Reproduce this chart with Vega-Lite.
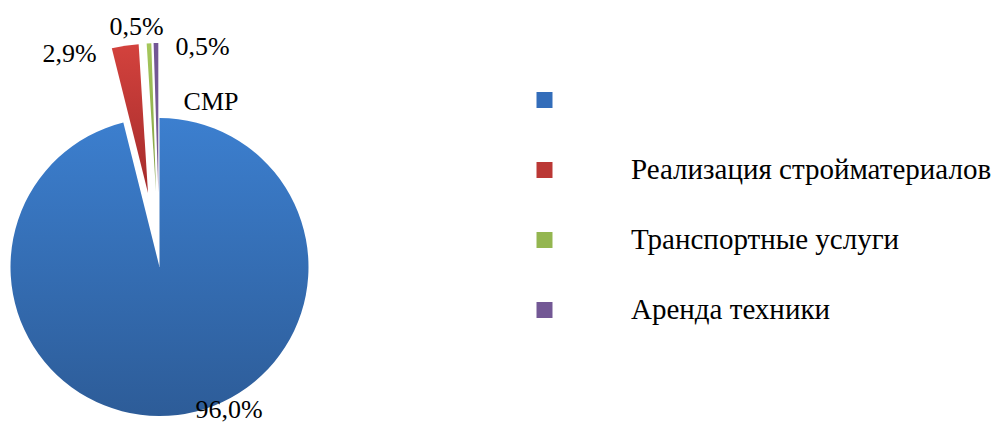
{
  "$schema": "https://vega.github.io/schema/vega-lite/v6.json",
  "width": 319,
  "height": 425,
  "autosize": {"type": "none"},
  "padding": {"left": 0, "top": 0, "right": 676, "bottom": 0},
  "background": "white",
  "config": {
    "view": {"stroke": null},
    "font": "Liberation Serif"
  },
  "data": {
    "values": [
      {"cat": "СМР", "share": 96.0, "label": "96,0%", "n": 1},
      {"cat": "Реализация стройматериалов", "share": 2.9, "label": "2,9%", "n": 2},
      {"cat": "Транспортные услуги", "share": 0.5, "label": "0,5%", "n": 3},
      {"cat": "Аренда техники", "share": 0.5, "label": "0,5%", "n": 4}
    ]
  },
  "encoding": {
    "theta": {"field": "share", "type": "quantitative", "stack": true},
    "order": {"field": "n", "type": "quantitative"},
    "color": {
      "field": "cat",
      "type": "nominal",
      "scale": {
        "domain": ["СМР", "Реализация стройматериалов", "Транспортные услуги", "Аренда техники"],
        "range": ["#336dba", "#bb3835", "#94b650", "#735895"]
      },
      "legend": {
        "title": null,
        "orient": "none",
        "legendX": 530,
        "legendY": 85.5,
        "symbolType": "square",
        "symbolSize": 256,
        "symbolStrokeWidth": 0,
        "labelFont": "Liberation Serif",
        "labelFontSize": 29,
        "labelColor": "black",
        "labelOffset": 72,
        "labelLimit": 500,
        "rowPadding": 40,
        "labelExpr": "datum.label === 'СМР' ? '' : datum.label"
      }
    }
  },
  "layer": [
    {
      "mark": {"type": "arc", "radius": 149, "yOffset": 54.5},
      "encoding": {
        "color": {"value": {"gradient": "linear", "x1": 0, "y1": 0, "x2": 0, "y2": 1, "stops": [{"offset": 0, "color": "#3c7fcf"}, {"offset": 1, "color": "#2d5c98"}]}},
        "opacity": {"condition": {"test": "datum.cat === 'СМР'", "value": 1}, "value": 0}
      }
    },
    {
      "mark": {"type": "arc", "radius": 149, "xOffset": -11.5, "yOffset": -19.6},
      "encoding": {
        "color": {"value": {"gradient": "linear", "x1": 0, "y1": 0, "x2": 0, "y2": 1, "stops": [{"offset": 0, "color": "#d3423d"}, {"offset": 1, "color": "#a42b2b"}]}},
        "opacity": {"condition": {"test": "datum.cat === 'Реализация стройматериалов'", "value": 1}, "value": 0}
      }
    },
    {
      "mark": {"type": "arc", "radius": 149, "xOffset": -3.5, "yOffset": -20.4},
      "encoding": {
        "color": {"value": {"gradient": "linear", "x1": 0, "y1": 0, "x2": 0, "y2": 1, "stops": [{"offset": 0, "color": "#a6c85c"}, {"offset": 1, "color": "#7f9c42"}]}},
        "opacity": {"condition": {"test": "datum.cat === 'Транспортные услуги'", "value": 1}, "value": 0}
      }
    },
    {
      "mark": {"type": "arc", "radius": 149, "xOffset": -1.2, "yOffset": -20.5},
      "encoding": {
        "opacity": {"condition": {"test": "datum.cat === 'Аренда техники'", "value": 1}, "value": 0}
      }
    },
    {
      "mark": {"type": "text", "radius": 166.2, "thetaOffset": -0.3088, "yOffset": 54.5, "fontSize": 26, "baseline": "alphabetic", "align": "center"},
      "encoding": {"color": {"value": "black"}, "text": {"condition": {"test": "datum.cat === 'СМР'", "field": "label", "type": "nominal"}, "value": ""}}
    },
    {
      "mark": {"type": "text", "radius": 165.2, "thetaOffset": -2.7019, "yOffset": 54.5, "fontSize": 26, "baseline": "alphabetic", "align": "center"},
      "encoding": {"color": {"value": "black"}, "text": {"condition": {"test": "datum.cat === 'СМР'", "field": "cat", "type": "nominal"}, "value": ""}}
    },
    {
      "mark": {"type": "text", "radius": 223.9, "thetaOffset": -0.2595, "yOffset": 54.5, "fontSize": 26, "baseline": "alphabetic", "align": "center"},
      "encoding": {"color": {"value": "black"}, "text": {"condition": {"test": "datum.cat === 'Реализация стройматериалов'", "field": "label", "type": "nominal"}, "value": ""}}
    },
    {
      "mark": {"type": "text", "radius": 233.1, "thetaOffset": -0.0517, "yOffset": 54.5, "fontSize": 26, "baseline": "alphabetic", "align": "center"},
      "encoding": {"color": {"value": "black"}, "text": {"condition": {"test": "datum.cat === 'Транспортные услуги'", "field": "label", "type": "nominal"}, "value": ""}}
    },
    {
      "mark": {"type": "text", "radius": 216.3, "thetaOffset": 0.2159, "yOffset": 54.5, "fontSize": 26, "baseline": "alphabetic", "align": "center"},
      "encoding": {"color": {"value": "black"}, "text": {"condition": {"test": "datum.cat === 'Аренда техники'", "field": "label", "type": "nominal"}, "value": ""}}
    }
  ]
}
